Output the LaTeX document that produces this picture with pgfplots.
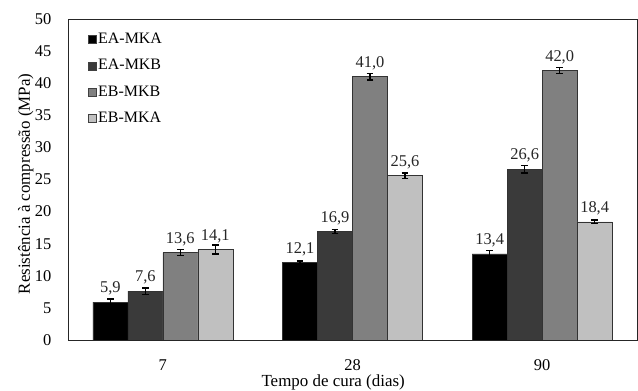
\documentclass[border=0pt]{standalone}
\usepackage{fontspec}
\setmainfont{Liberation Serif}
\usepackage{pgfplots}
\usepackage{pgfplotstable}
\pgfplotsset{compat=1.18}
\definecolor{cA}{HTML}{000000}
\definecolor{cB}{HTML}{3A3A3A}
\definecolor{cC}{HTML}{808080}
\definecolor{cD}{HTML}{C0C0C0}
\pgfplotstableread{
x y e l
0 5.9 0.5 5,9
1 12.1 0.2 12,1
2 13.4 0.5 13,4
}\tA
\pgfplotstableread{
x y e l
0 7.6 0.5 7,6
1 16.9 0.3 16,9
2 26.6 0.6 26,6
}\tB
\pgfplotstableread{
x y e l
0 13.6 0.5 13,6
1 41.0 0.5 41,0
2 42.0 0.5 42,0
}\tC
\pgfplotstableread{
x y e l
0 14.1 0.7 14,1
1 25.6 0.4 25,6
2 18.4 0.3 18,4
}\tD
\begin{document}
\fontsize{16.5}{19}\selectfont
\begin{tikzpicture}
\path[use as bounding box] (-68bp,-51bp) rectangle (570bp,340bp);
\begin{axis}[
  at={(0,0)}, anchor=south west,
  scale only axis, width=569bp, height=321bp,
  xmin=-0.5, xmax=2.5, ymin=0, ymax=50,
  ytick distance=5, xtick={0,1,2}, xticklabels={7,28,90},
  major tick length=0,
  axis line style={black!85, line width=0.8bp},
  /pgf/number format/assume math mode=true,
  ybar=0pt, bar width=35bp,
  xticklabel style={anchor=base, yshift=-30bp},
  yticklabel style={anchor=east, xshift=-11bp},
  xlabel={Tempo de cura (dias)},
  ylabel={Resistência à compressão (MPa)},
  xlabel style={at={(axis description cs:0.466,-0.144)}, anchor=base, font=\fontsize{17}{19}\selectfont},
  ylabel style={at={(axis description cs:-0.074,0.486)}, anchor=center, font=\fontsize{17}{19}\selectfont},
  point meta=explicit symbolic,
  nodes near coords,
  nodes near coords style={text=black!85, yshift=1bp},
  legend style={draw=none, fill=none, at={(0.035,0.962)}, anchor=north west,
    row sep=10.5bp, inner sep=0pt, nodes={inner sep=1.5bp},
    font=\fontsize{16}{18}\selectfont},
  legend cell align=left,
  myleg/.style={legend image code/.code={\draw[##1, draw=black!75, line width=0.6bp] (0bp,-4bp) rectangle (8bp,4bp);}},
  error bars/error bar style={line width=1.2bp, black},
  error bars/error mark options={rotate=90, mark size=3.3bp, line width=1.2bp, black},
]
\addplot[fill=cA, draw=black!80, line width=0.6bp, myleg,
  error bars/.cd, y dir=both, y explicit]
  table[x=x, y=y, y error=e, meta=l] {\tA};
\addplot[fill=cB, draw=black!80, line width=0.6bp, myleg,
  error bars/.cd, y dir=both, y explicit]
  table[x=x, y=y, y error=e, meta=l] {\tB};
\addplot[fill=cC, draw=black!80, line width=0.6bp, myleg,
  error bars/.cd, y dir=both, y explicit]
  table[x=x, y=y, y error=e, meta=l] {\tC};
\addplot[fill=cD, draw=black!80, line width=0.6bp, myleg,
  error bars/.cd, y dir=both, y explicit]
  table[x=x, y=y, y error=e, meta=l] {\tD};
\legend{EA-MKA, EA-MKB, EB-MKB, EB-MKA}
\end{axis}
\end{tikzpicture}
\end{document}
